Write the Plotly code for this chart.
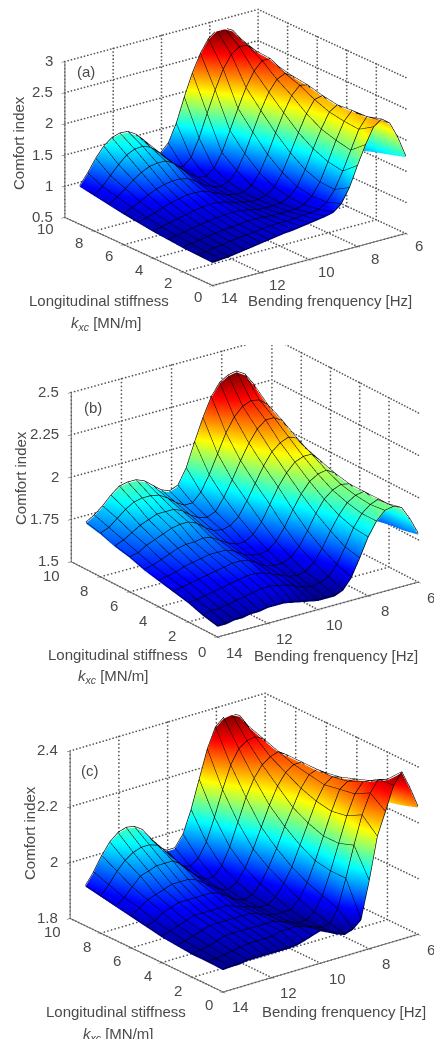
import math
import numpy as np
import plotly.graph_objects as go

FREQ = [14 - i / 3 for i in range(25)]
STIFF = [0, 1, 2, 3, 4, 5, 6, 7, 8, 9]
F_TICKS = [6, 8, 10, 12, 14]
K_TICKS = [0, 2, 4, 6, 8, 10]

Z_TICKS_A = [0.5, 1, 1.5, 2, 2.5, 3]
Z_LABELS_A = ["0.5", "1", "1.5", "2", "2.5", "3"]
Z_TICKS_B = [1.5, 1.75, 2, 2.25, 2.5]
Z_LABELS_B = ["1.5", "1.75", "2", "2.25", "2.5"]
Z_TICKS_C = [1.8, 2, 2.2, 2.4]
Z_LABELS_C = ["1.8", "2", "2.2", "2.4"]

COMFORT_A = [
 [.86,.87,.88,.90,.92,.94,.96,.98,1.0,1.02,1.03,1.05,1.07,1.09,1.11,1.14,1.24,1.46,1.78,2.08,2.33,2.42,2.32,2.06,1.72],
 [.87,.88,.90,.92,.94,.96,.97,.98,1.0,1.01,1.02,1.02,1.03,1.04,1.05,1.07,1.15,1.32,1.58,1.88,2.18,2.35,2.28,2.0,1.65],
 [.88,.90,.92,.94,.96,.98,.99,1.0,1.02,1.02,1.01,1.0,1.0,1.0,1.0,1.04,1.14,1.33,1.62,1.93,2.2,2.34,2.24,1.93,1.58],
 [.90,.92,.94,.97,.99,1.01,1.03,1.04,1.05,1.04,1.02,.99,.98,.98,.99,1.05,1.18,1.42,1.72,2.0,2.24,2.32,2.2,1.88,1.5],
 [.92,.95,.98,1.01,1.04,1.07,1.09,1.10,1.10,1.07,1.03,1.0,.97,.97,1.0,1.1,1.3,1.58,1.87,2.14,2.33,2.36,2.2,1.86,1.45],
 [.95,.99,1.03,1.08,1.12,1.15,1.18,1.18,1.17,1.12,1.06,1.01,.98,.98,1.05,1.22,1.48,1.79,2.08,2.32,2.45,2.42,2.22,1.84,1.40],
 [.98,1.04,1.10,1.17,1.23,1.27,1.29,1.29,1.26,1.18,1.09,1.03,1.0,1.04,1.18,1.42,1.73,2.04,2.3,2.47,2.53,2.45,2.2,1.78,1.35],
 [1.02,1.10,1.20,1.30,1.39,1.45,1.47,1.47,1.40,1.28,1.16,1.07,1.05,1.14,1.36,1.68,2.0,2.3,2.53,2.66,2.66,2.5,2.14,1.72,1.30],
 [1.06,1.16,1.30,1.44,1.56,1.62,1.63,1.58,1.47,1.32,1.18,1.13,1.24,1.52,1.88,2.22,2.52,2.72,2.81,2.80,2.68,2.44,2.05,1.62,1.25],
 [1.10,1.27,1.47,1.63,1.73,1.77,1.76,1.68,1.55,1.38,1.27,1.40,1.68,2.07,2.42,2.7,2.9,3.0,3.0,2.93,2.76,2.45,2.05,1.6,1.2],
]

COMFORT_B = [
 [1.56,1.56,1.57,1.57,1.58,1.58,1.59,1.59,1.59,1.58,1.57,1.56,1.55,1.55,1.55,1.57,1.63,1.73,1.84,1.92,1.97,1.98,1.96,1.88,1.78],
 [1.58,1.59,1.59,1.60,1.61,1.62,1.63,1.64,1.64,1.63,1.62,1.60,1.58,1.57,1.58,1.6,1.66,1.75,1.85,1.92,1.96,1.98,1.94,1.86,1.76],
 [1.61,1.61,1.62,1.63,1.64,1.65,1.66,1.67,1.67,1.66,1.64,1.62,1.60,1.59,1.60,1.64,1.71,1.8,1.88,1.94,1.97,1.98,1.93,1.84,1.75],
 [1.63,1.64,1.65,1.66,1.67,1.68,1.69,1.70,1.70,1.69,1.66,1.63,1.62,1.62,1.64,1.69,1.77,1.86,1.93,1.97,1.99,1.98,1.92,1.82,1.73],
 [1.65,1.66,1.67,1.69,1.70,1.71,1.72,1.72,1.72,1.70,1.67,1.65,1.64,1.65,1.69,1.76,1.85,1.93,1.99,2.02,2.03,2.0,1.92,1.81,1.71],
 [1.67,1.68,1.70,1.72,1.74,1.75,1.75,1.76,1.75,1.72,1.69,1.67,1.67,1.7,1.76,1.85,1.94,2.01,2.06,2.08,2.08,2.03,1.93,1.81,1.7],
 [1.70,1.71,1.74,1.76,1.78,1.80,1.81,1.81,1.79,1.75,1.72,1.71,1.72,1.76,1.84,1.93,2.02,2.09,2.13,2.15,2.13,2.06,1.95,1.82,1.7],
 [1.72,1.74,1.77,1.80,1.82,1.84,1.84,1.84,1.82,1.78,1.75,1.74,1.76,1.83,1.92,2.02,2.11,2.18,2.22,2.22,2.19,2.1,1.97,1.83,1.7],
 [1.75,1.77,1.81,1.85,1.88,1.89,1.89,1.88,1.85,1.81,1.78,1.78,1.83,1.92,2.03,2.14,2.22,2.27,2.29,2.28,2.24,2.14,1.99,1.84,1.7],
 [1.77,1.80,1.84,1.89,1.93,1.94,1.94,1.92,1.88,1.84,1.82,1.84,1.93,2.07,2.2,2.31,2.38,2.41,2.42,2.39,2.32,2.2,2.03,1.86,1.7],
]

COMFORT_C = [
 [1.878,1.88,1.88,1.885,1.885,1.885,1.885,1.885,1.885,1.887,1.895,1.905,1.914,1.90,1.885,1.875,1.885,1.91,2.04,2.19,2.27,2.355,2.395,2.33,2.254],
 [1.88,1.88,1.885,1.89,1.895,1.90,1.90,1.90,1.90,1.91,1.91,1.91,1.90,1.89,1.88,1.885,1.93,2.03,2.14,2.24,2.31,2.35,2.34,2.29,2.235],
 [1.88,1.885,1.89,1.90,1.91,1.91,1.91,1.91,1.91,1.91,1.91,1.90,1.89,1.88,1.88,1.9,1.95,2.03,2.12,2.21,2.28,2.315,2.31,2.27,2.22],
 [1.885,1.89,1.90,1.91,1.92,1.92,1.92,1.92,1.92,1.92,1.91,1.90,1.89,1.89,1.89,1.92,1.97,2.04,2.12,2.2,2.27,2.29,2.29,2.25,2.2],
 [1.89,1.90,1.91,1.92,1.93,1.93,1.93,1.93,1.93,1.92,1.91,1.90,1.89,1.89,1.91,1.95,2.0,2.07,2.14,2.21,2.26,2.28,2.27,2.23,2.17],
 [1.90,1.91,1.93,1.94,1.95,1.95,1.95,1.95,1.95,1.94,1.92,1.90,1.89,1.90,1.93,1.98,2.04,2.11,2.17,2.23,2.27,2.28,2.26,2.2,2.13],
 [1.91,1.93,1.95,1.96,1.97,1.98,1.98,1.98,1.97,1.95,1.93,1.91,1.90,1.92,1.96,2.02,2.09,2.16,2.22,2.26,2.28,2.28,2.24,2.17,2.09],
 [1.92,1.94,1.97,2.0,2.01,2.02,2.02,2.02,2.0,1.97,1.94,1.92,1.92,1.95,2.01,2.09,2.17,2.23,2.27,2.29,2.30,2.28,2.22,2.13,2.05],
 [1.93,1.96,2.0,2.03,2.05,2.06,2.06,2.05,2.02,1.98,1.95,1.94,1.96,2.01,2.09,2.18,2.26,2.31,2.33,2.335,2.32,2.27,2.19,2.09,2.0],
 [1.94,1.98,2.03,2.07,2.095,2.105,2.10,2.08,2.04,2.0,1.98,1.98,2.02,2.10,2.2,2.30,2.37,2.395,2.40,2.385,2.34,2.26,2.16,2.04,1.95],
]

JET = [[0, "rgb(0,0,143)"], [.125, "rgb(0,0,255)"], [.375, "rgb(0,255,255)"],
       [.625, "rgb(255,255,0)"], [.875, "rgb(255,0,0)"], [1, "rgb(128,0,0)"]]
TXT = "#4a4a4a"
FONT = "Liberation Sans"
PX_UNIT = 174.0


def camera(el, alpha, dx, dy, zr, s):
    e, a = math.radians(el), math.radians(alpha)
    eye = np.array([-math.sin(a) * math.cos(e), -math.cos(a) * math.cos(e), math.sin(e)])
    right = np.array([math.cos(a), -math.sin(a), 0])
    up = np.cross(right, -eye)
    c = -(dx * right + dy * up) / PX_UNIT
    scale = np.array([1, 1, 1 / (zr * s)])
    c = c * scale
    ev = eye * scale + c
    return dict(eye=dict(zip("xyz", ev.tolist())), center=dict(zip("xyz", c.tolist())),
                up=dict(x=0, y=0, z=1), projection=dict(type="orthographic"))


def grid_traces(ztv, scene):
    xs, ys, zs = [], [], []
    z0, z1 = ztv[0], ztv[-1]

    def seg(p, q, n):
        for t in np.linspace(0, 1, n):
            xs.append(p[0] + (q[0] - p[0]) * t)
            ys.append(p[1] + (q[1] - p[1]) * t)
            zs.append(p[2] + (q[2] - p[2]) * t)

    for f in F_TICKS:
        seg((f, 10, z0), (f, 10, z1), 45)
        seg((f, 0, z0), (f, 10, z0), 55)
    for k in K_TICKS[1:]:
        seg((6, k, z0), (6, k, z1), 45)
    for k in K_TICKS[:-1]:
        seg((14, k, z0), (6, k, z0), 55)
    for z in ztv[1:]:
        seg((14, 10, z), (6, 10, z), 60)
        seg((6, 10, z), (6, 0, z), 55)
    return go.Scatter3d(x=xs, y=ys, z=zs, mode="markers", scene=scene, showlegend=False, hoverinfo="skip",
                        marker=dict(color="#555555", size=1, line=dict(width=0)))


def wire_traces(data, ztv, scene):
    eps = (ztv[-1] - ztv[0]) * 0.008
    out = []
    xs, ys, zs = [], [], []
    for j, row in enumerate(data):
        xs += FREQ + [None]
        ys += [STIFF[j]] * len(FREQ) + [None]
        zs += [v + eps for v in row] + [None]
    out.append(go.Scatter3d(x=xs, y=ys, z=zs, mode="lines", scene=scene, showlegend=False, hoverinfo="skip",
                            line=dict(color="#000000", width=1.3)))
    for i, f in enumerate(FREQ):
        out.append(go.Scatter3d(x=[f] * len(STIFF), y=STIFF, z=[row[i] + eps for row in data], mode="lines",
                                scene=scene, showlegend=False, hoverinfo="skip",
                                line=dict(color="#000000", width=1)))
    return out


def axis(vals, rng):
    return dict(range=rng, tickvals=vals, showticklabels=False, showgrid=False, zeroline=False, showbackground=False,
                showspikes=False, showline=True, linecolor="#666666", linewidth=2, ticks="inside", ticklen=4,
                tickcolor="#444444", title=dict(text=""))


def tick(x, y, z, text, xs, ys, anchor="center"):
    return dict(x=x, y=y, z=z, text=text, showarrow=False, xanchor=anchor, yanchor="middle", xshift=xs, yshift=ys,
                font=dict(family=FONT, size=15, color=TXT))


PANELS = [
    ("scene", COMFORT_A, Z_TICKS_A, Z_LABELS_A, [0, 345], (20, 37.4, 18.5, 24.5), .685, 1.41, (-15, -11), (17, -12)),
    ("scene2", COMFORT_B, Z_TICKS_B, Z_LABELS_B, [345, 690], (23.2, 36.1, 28, 32), .735, 1.44, (-16, -14), (17, -15)),
    ("scene3", COMFORT_C, Z_TICKS_C, Z_LABELS_C, [690, 1039], (22.9, 38.1, 27, 22.5), .73, 1.42, (-14, -13), (17, -15)),
]

fig = go.Figure()
H = 1039
layout = {}
for name, data, zt, zl, (top, bot), cam, zr, s, kshift, fshift in PANELS:
    fig.add_trace(go.Surface(
        x=FREQ, y=STIFF, z=data, scene=name, colorscale=JET, showscale=False, hoverinfo="skip",
        lighting=dict(ambient=1, diffuse=0, specular=0, roughness=1, fresnel=0),
        contours=dict(z=dict(highlight=False), x=dict(highlight=False), y=dict(highlight=False))))
    fig.add_traces(wire_traces(data, zt, name))
    fig.add_trace(grid_traces(zt, name))
    zb = zt[0] + 1e-4
    notes = [tick(14, 10, max(v, zb), t, -10, 1, "right") for v, t in zip(zt, zl)]
    notes += [tick(14, k, zb, str(k), kshift[0] - (4 if k == 10 else 0), kshift[1]) for k in K_TICKS]
    notes += [tick(f, 0, zb, str(f), fshift[0] - (4 if f == 6 else 0), fshift[1]) for f in F_TICKS]
    layout[name] = dict(
        domain=dict(x=[0, 1], y=[1 - bot / H, 1 - top / H]),
        xaxis=axis(F_TICKS, [14, 6]), yaxis=axis(K_TICKS, [0, 10]), zaxis=axis(zt, [zt[0], zt[-1]]),
        aspectmode="manual", aspectratio=dict(x=s, y=s, z=zr * s), camera=camera(*cam, zr, s), bgcolor="white",
        annotations=notes)


def note(x, y, text, angle=0, size=15):
    return dict(x=x / 434, y=1 - y / H, xref="paper", yref="paper", text=text, showarrow=False, textangle=angle,
                font=dict(family=FONT, size=size, color=TXT), xanchor="center", yanchor="middle")


LABELS = [
    (99, 301, "Longitudinal stiffness"), (106, 323, "<i>k<sub>xc</sub></i> [MN/m]"),
    (330, 301, "Bending frenquency [Hz]"), (18, 143, "Comfort index", -90), (86, 72, "(a)"),
    (118, 654, "Longitudinal stiffness"), (114, 676, "<i>k<sub>xc</sub></i> [MN/m]"),
    (336, 655, "Bending frenquency [Hz]"), (20, 478, "Comfort index", -90), (93, 407, "(b)"),
    (116, 1011, "Longitudinal stiffness"), (118, 1034, "<i>k<sub>xc</sub></i> [MN/m]"),
    (344, 1011, "Bending frenquency [Hz]"), (29, 833, "Comfort index", -90), (90, 770, "(c)"),
]
fig.update_layout(width=434, height=1039, margin=dict(l=0, r=0, t=0, b=0), paper_bgcolor="white",
                  showlegend=False, annotations=[note(*l) for l in LABELS], **layout)
fig.write_html("out.html", config={"displayModeBar": False},
               post_script="document.body.style.margin='0';document.body.style.overflow='hidden';")
